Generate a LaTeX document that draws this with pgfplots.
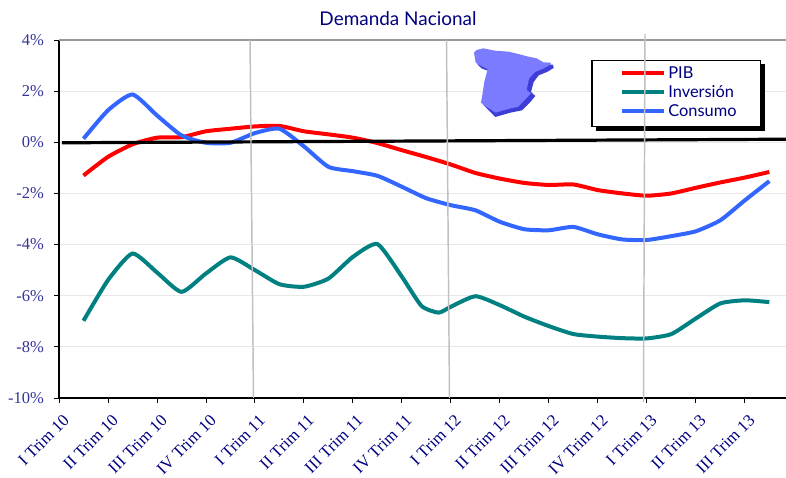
\documentclass[border=0pt]{standalone}
\usepackage{pgfplots}
\pgfplotsset{compat=1.18}
\usepackage{fontspec}
\setmainfont{Liberation Serif}
\newfontfamily\gill{Lato}
\definecolor{ylab}{HTML}{333399}
\definecolor{navy}{HTML}{000080}
\definecolor{pib}{HTML}{FF0000}
\definecolor{inv}{HTML}{008080}
\definecolor{con}{HTML}{3366FF}
\definecolor{vline}{HTML}{C0C0C0}
\definecolor{mapa}{HTML}{7B7BFF}
\definecolor{mapb}{HTML}{3D3DD8}
\begin{document}
\begin{tikzpicture}
\useasboundingbox (0pt,0pt) rectangle (589.5pt,358.5pt);
\clip (0pt,0pt) rectangle (589.5pt,358.5pt);
\begin{axis}[
  at={(44.25pt,60pt)}, anchor=south west, scale only axis,
  width=545.25pt, height=268.5pt,
  xmin=0, xmax=14.84, ymin=-10, ymax=4,
  axis x line=bottom, axis y line=left,
  axis line style={black,line width=0.9pt,-},
  xtick={0,...,14},
  xticklabels={I Trim 10,II Trim 10,III Trim 10,IV Trim 10,I Trim 11,II Trim 11,III Trim 11,IV Trim 11,I Trim 12,II Trim 12,III Trim 12,IV Trim 12,I Trim 13,II Trim 13,III Trim 13},
  ytick={-10,-8,...,4},
  yticklabel={\pgfmathprintnumber{\tick}\%},
  /pgf/number format/assume math mode=true,
  tick align=outside, major tick length=3.75pt,
  tick style={black,line width=0.7pt},
  yticklabel style={font=\fontsize{12.4}{14}\selectfont, text=ylab, xshift=-4pt},
  xticklabel style={font=\fontsize{12.6}{14}\selectfont, text=navy, rotate=45, anchor=north east, xshift=-0.5pt, yshift=-3.8pt},
  ymajorgrids, grid style={black!9,line width=0.6pt},
  clip=true,
  legend style={at={(rel axis cs:0.7305,0.9441)}, anchor=north west,
    draw=none, fill=none, font=\gill\fontsize{12.3}{14}\selectfont, text=navy,
    inner xsep=22.5pt, inner ysep=2.6pt, row sep=-0.2pt, cells={anchor=west}},
  legend cell align=left,
  legend image code/.code={\draw[#1,line width=3pt] (0pt,0pt) -- (31pt,0pt);},
]
\fill[black] (axis cs:10.96,3.05) rectangle (axis cs:14.41,0.43);
\draw[black,line width=0.8pt,fill=white] (axis cs:10.88,3.2) rectangle (axis cs:14.32,0.625);
\addplot[pib,line width=3pt,smooth,tension=0.35] coordinates {
(0.5,-1.3)(1,-0.57)(1.5,-0.08)(2,0.18)(2.5,0.2)(3,0.43)(3.5,0.53)(4,0.62)(4.5,0.64)(5,0.43)(5.5,0.31)(6,0.18)(6.5,-0.03)(7,-0.31)(7.5,-0.58)(8,-0.87)(8.5,-1.2)(9,-1.42)(9.5,-1.59)(10,-1.67)(10.5,-1.65)(11,-1.87)(11.5,-2.0)(12,-2.09)(12.5,-2.0)(13,-1.78)(13.5,-1.57)(14,-1.38)(14.5,-1.16)};
\addlegendentry{PIB}
\addplot[inv,line width=3pt,smooth,tension=0.35] coordinates {
(0.5,-6.98)(1,-5.39)(1.5,-4.35)(2,-5.09)(2.5,-5.85)(3,-5.13)(3.5,-4.5)(4,-5.0)(4.5,-5.55)(5,-5.65)(5.5,-5.33)(6,-4.48)(6.5,-3.98)(7,-5.26)(7.4,-6.4)(7.75,-6.66)(8,-6.43)(8.5,-6.02)(9,-6.37)(9.5,-6.82)(10,-7.19)(10.5,-7.5)(11,-7.6)(11.5,-7.66)(12,-7.67)(12.5,-7.5)(13,-6.89)(13.5,-6.3)(14,-6.18)(14.5,-6.25)};
\addlegendentry{Inversión}
\addplot[con,line width=3pt,smooth,tension=0.35] coordinates {
(0.5,0.14)(1,1.25)(1.5,1.87)(2,1.05)(2.5,0.27)(3,-0.02)(3.5,-0.02)(4,0.36)(4.5,0.53)(5,-0.16)(5.5,-0.96)(6,-1.13)(6.5,-1.31)(7,-1.74)(7.5,-2.19)(8,-2.46)(8.5,-2.66)(9,-3.11)(9.5,-3.4)(10,-3.44)(10.5,-3.31)(11,-3.6)(11.5,-3.8)(12,-3.82)(12.5,-3.67)(13,-3.48)(13.5,-3.05)(14,-2.27)(14.5,-1.52)};
\addlegendentry{Consumo}
\addplot[black,line width=2.4pt,forget plot] coordinates {(0.06,-0.02)(14.84,0.12)};
\end{axis}
\begin{scope}[x=0.75pt,y=0.75pt]
\draw[black!40,line width=1pt] (59,438) -- (786,438);
\draw[vline,line width=1.1pt] (250,438) -- (253.5,80);
\draw[vline,line width=1.1pt] (446.5,438) -- (449.5,80);
\draw[vline,line width=1.1pt] (645,444) -- (643.5,76);
\begin{scope}[shift={(465,438)},x=0.25pt,y=-0.25pt]
\fill[mapb,shift={(6,6)}] (27,38)--(35,30)--(55,25)--(90,32)--(130,35)--(160,42)--(190,50)--(215,55)--(235,67)--(258,68)--(260,78)--(240,90)--(215,100)--(200,120)--(192,150)--(205,162)--(190,180)--(165,205)--(130,212)--(95,222)--(85,225)--(60,200)--(50,190)--(52,165)--(58,125)--(68,88)--(45,80)--(32,68)--cycle;
\fill[mapa] (27,38)--(35,30)--(55,25)--(90,32)--(130,35)--(160,42)--(190,50)--(215,55)--(235,67)--(258,68)--(256,74)--(235,86)--(210,96)--(192,116)--(185,150)--(198,160)--(183,176)--(160,200)--(125,208)--(92,218)--(60,198)--(48,188)--(52,165)--(58,125)--(68,88)--(45,76)--(32,68)--cycle;
\end{scope}
\node[font=\gill\fontsize{14.2}{16}\selectfont, text=navy, anchor=base] at (398,452) {Demanda Nacional};
\end{scope}
\end{tikzpicture}
\end{document}
